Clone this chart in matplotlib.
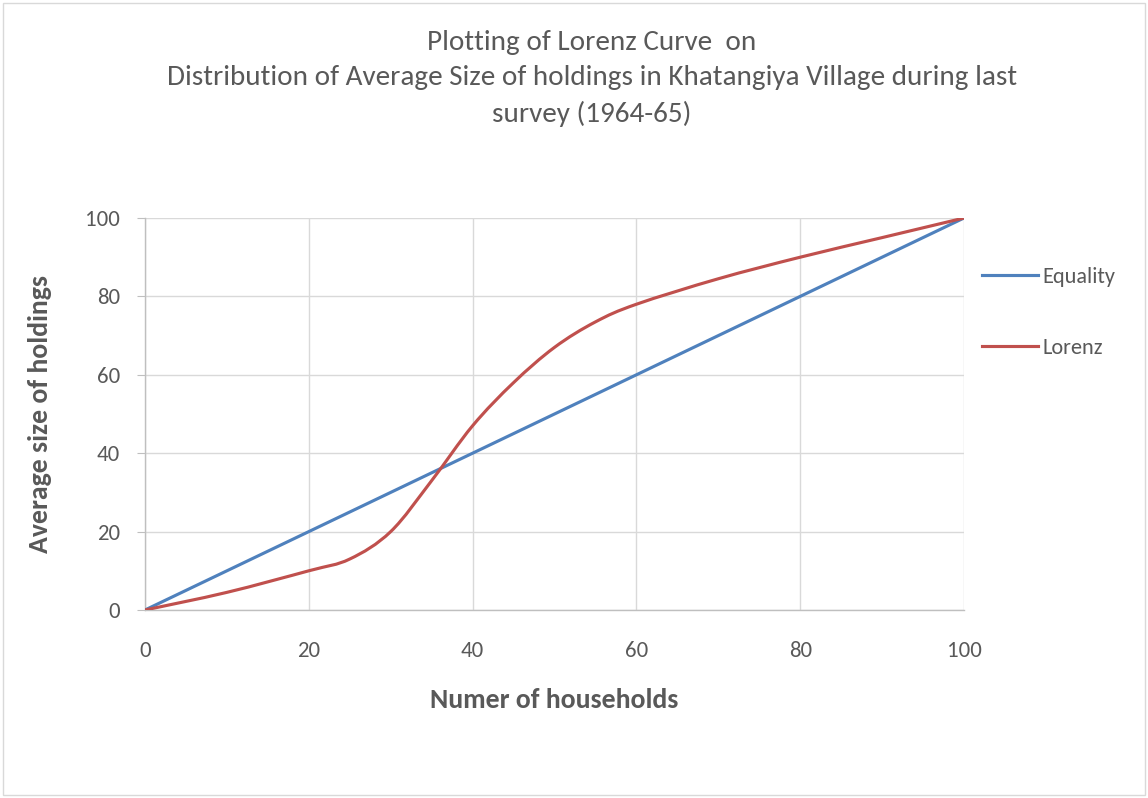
import numpy as np
import matplotlib.pyplot as plt
from matplotlib.path import Path
from matplotlib.patches import PathPatch, Rectangle
from matplotlib.lines import Line2D

plt.rcParams['font.family'] = ['Carlito', 'Lato', 'DejaVu Sans']

# values
equality_x = [0, 100]
equality_y = [0, 100]
lorenz_x = [0, 10, 20, 25, 30, 35, 40, 45, 50, 55, 60, 70, 80, 90, 100]
lorenz_y = [0, 4.5, 10, 13, 20, 33, 47, 58, 67, 73.5, 78, 84.5, 90, 95, 100]
x_ticks = [0, 20, 40, 60, 80, 100]
y_ticks = [0, 20, 40, 60, 80, 100]

blue = '#4F81BD'
red = '#C0504D'
grey_text = '#595959'


def smooth_path(xs, ys):
    # Excel style smoothed line: cubic bezier through every point
    pts = np.column_stack([xs, ys]).astype(float)
    ext = np.vstack([pts[0], pts, pts[-1]])
    verts = [pts[0]]
    codes = [Path.MOVETO]
    for i in range(len(pts) - 1):
        p0, p1, p2, p3 = ext[i], ext[i + 1], ext[i + 2], ext[i + 3]
        verts += [p1 + (p2 - p0) / 6, p2 - (p3 - p1) / 6, p2]
        codes += [Path.CURVE4] * 3
    return Path(verts, codes)


fig = plt.figure(figsize=(11.48, 7.98), dpi=100)
ax = fig.add_axes([145 / 1148, 1 - 610 / 798, 819 / 1148, 392 / 798])

ax.plot(equality_x, equality_y, color=blue, lw=2.25, solid_capstyle='round', zorder=3)
ax.add_patch(PathPatch(smooth_path(lorenz_x, lorenz_y), facecolor='none',
                       edgecolor=red, lw=2.25, capstyle='round', zorder=4))

ax.set_xlim(0, 100)
ax.set_ylim(0, 100)
ax.set_xticks(x_ticks)
ax.set_yticks(y_ticks)
ax.grid(True, color='#D9D9D9', lw=1)
ax.set_axisbelow(True)
for s in ['top', 'right']:
    ax.spines[s].set_visible(False)
for s in ['left', 'bottom']:
    ax.spines[s].set_color('#BFBFBF')
    ax.spines[s].set_linewidth(1)
ax.tick_params(axis='y', length=6, color='#BFBFBF', labelsize=16.5, labelcolor=grey_text, pad=12)
ax.tick_params(axis='x', length=0, labelsize=16.5, labelcolor=grey_text, pad=22)

ax.set_xlabel('Numer of households', fontsize=20, fontweight='bold', color=grey_text, labelpad=20)
ax.set_ylabel('Average size of holdings', fontsize=20, fontweight='bold', color=grey_text, labelpad=24)

fig.text(0.5157, 1 - 30 / 798, 'Plotting of Lorenz Curve  on\n'
         'Distribution of Average Size of holdings in Khatangiya Village during last\n'
         'survey (1964-65)', ha='center', va='top', fontsize=21, color=grey_text,
         linespacing=1.5, transform=fig.transFigure)

handles = [Line2D([], [], color=blue, lw=2.25), Line2D([], [], color=red, lw=2.25)]
fig.legend(handles, ['Equality', 'Lorenz'], loc='upper left',
           bbox_to_anchor=(971 / 1148, 1 - 256 / 798), frameon=False, borderpad=0,
           fontsize=16, labelcolor=grey_text, handlelength=2.5, handletextpad=0.2,
           labelspacing=2.3)

fig.add_artist(Rectangle((0.003, 0.004), 0.994, 0.992, transform=fig.transFigure,
                         fill=False, edgecolor='#D9D9D9', lw=1))

fig.savefig('out.png', dpi=100)
